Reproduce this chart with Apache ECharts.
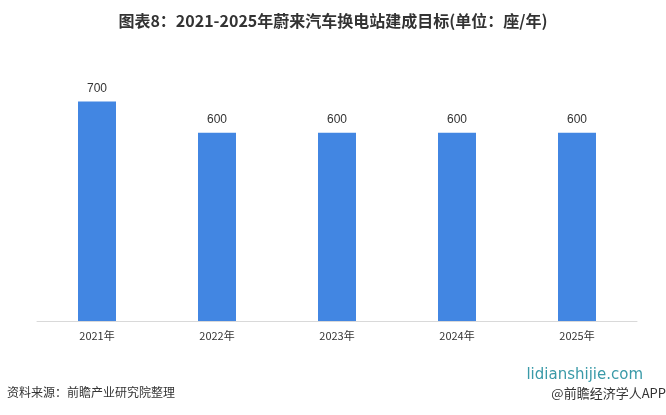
<!DOCTYPE html>
<html><head><meta charset="utf-8">
<script src="https://cdn.jsdelivr.net/npm/echarts@6/dist/echarts.min.js"></script>
<style>html,body{margin:0;padding:0;background:#fff}#c{width:666px;height:415px}</style>
</head><body><div id="c"></div>
<script>
var categories = ['2021年','2022年','2023年','2024年','2025年'];
var values = [700, 600, 600, 600, 600];
var chart = echarts.init(document.getElementById('c'));
chart.setOption({
  backgroundColor: '#fff',
  animation: false,
  title: {
    text: '图表8：2021-2025年蔚来汽车换电站建成目标(单位：座/年)',
    left: 'center', top: 8,
    textStyle: {fontFamily: 'Noto Sans CJK SC', fontWeight: 'bold', fontSize: 16, color: '#333'}
  },
  grid: {left: 37, right: 29, top: 70, bottom: 94},
  xAxis: {
    type: 'category', data: categories,
    axisLine: {lineStyle: {color: '#d9d9d9'}},
    axisTick: {show: false},
    axisLabel: {color: '#333', fontSize: 11, margin: 9, fontFamily: 'Noto Sans CJK SC'}
  },
  yAxis: {type: 'value', min: 0, max: 800, show: false, splitLine: {show: false}},
  series: [{
    type: 'bar', data: values, barWidth: 38,
    itemStyle: {color: '#4286E2'},
    label: {show: true, position: 'top', distance: 7, color: '#333', fontSize: 12, fontFamily: 'Arial'}
  }],
  graphic: [
    {type: 'text', left: 7, top: 386, style: {text: '资料来源：前瞻产业研究院整理', fontSize: 12, fill: '#333', fontFamily: 'Noto Sans CJK SC'}},
    {type: 'text', right: 0, top: 387, style: {text: '@前瞻经济学人APP', fontSize: 13, fill: '#333', fontFamily: 'Noto Sans CJK SC'}},
    {type: 'text', right: 23, top: 368, style: {text: 'lidianshijie.com', fontSize: 15, fill: '#3a9aa8', fontFamily: 'DejaVu Sans'}}
  ]
});
</script></body></html>
